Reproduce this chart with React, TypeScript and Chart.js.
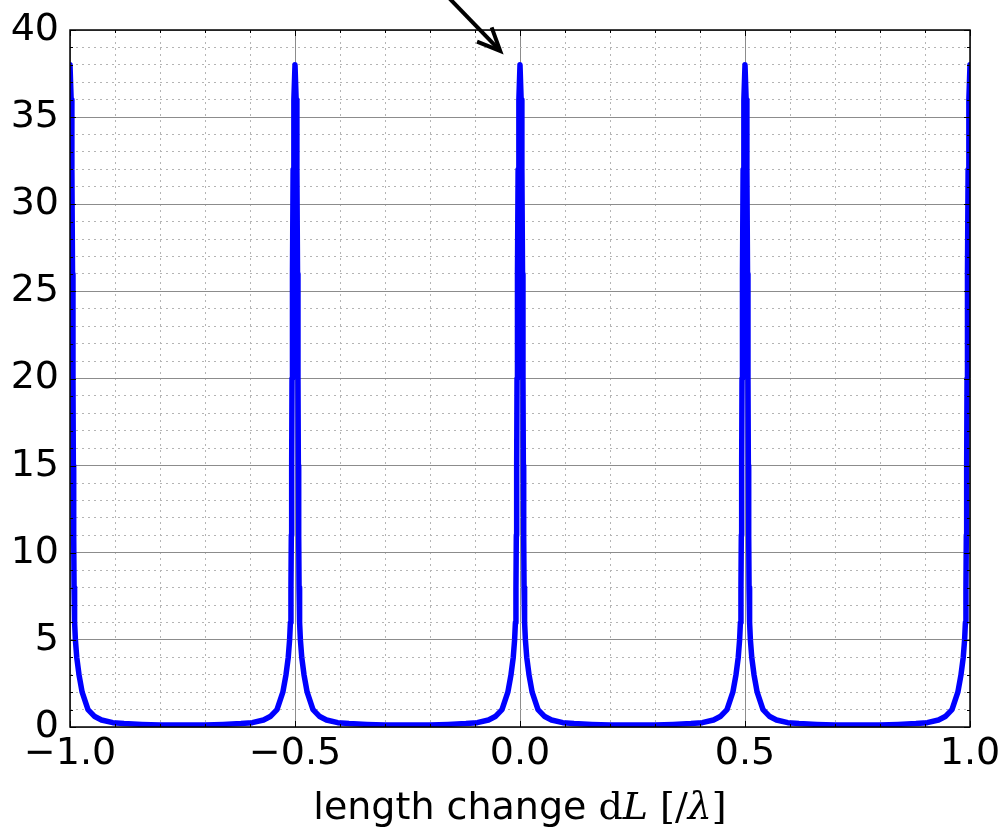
import React, { useEffect, useRef } from "react";
import { Chart, registerables } from "chart.js";

Chart.register(...registerables);

// length change dL [/λ]
const DL_VALUES = [
  -1, -0.9975, -0.9958, -0.9944, -0.9934, -0.9926, -0.9918, -0.991, -0.9898, -0.988, -0.985, -0.98, -0.973, -0.96, -0.945, -0.93, -0.905, -0.88, -0.84, -0.8,
  -0.75,
  -0.7, -0.66, -0.62, -0.595, -0.57, -0.555, -0.54, -0.527, -0.52, -0.515, -0.512, -0.5102, -0.509, -0.5082, -0.5074, -0.5066, -0.5056, -0.5042, -0.5025,
  -0.5,
  -0.4975, -0.4958, -0.4944, -0.4934, -0.4926, -0.4918, -0.491, -0.4898, -0.488, -0.485, -0.48, -0.473, -0.46, -0.445, -0.43, -0.405, -0.38, -0.34, -0.3,
  -0.25,
  -0.2, -0.16, -0.12, -0.095, -0.07, -0.055, -0.04, -0.027, -0.02, -0.015, -0.012, -0.0102, -0.009, -0.0082, -0.0074, -0.0066, -0.0056, -0.0042, -0.0025,
  0,
  0.0025, 0.0042, 0.0056, 0.0066, 0.0074, 0.0082, 0.009, 0.0102, 0.012, 0.015, 0.02, 0.027, 0.04, 0.055, 0.07, 0.095, 0.12, 0.16, 0.2,
  0.25,
  0.3, 0.34, 0.38, 0.405, 0.43, 0.445, 0.46, 0.473, 0.48, 0.485, 0.488, 0.4898, 0.491, 0.4918, 0.4926, 0.4934, 0.4944, 0.4958, 0.4975,
  0.5,
  0.5025, 0.5042, 0.5056, 0.5066, 0.5074, 0.5082, 0.509, 0.5102, 0.512, 0.515, 0.52, 0.527, 0.54, 0.555, 0.57, 0.595, 0.62, 0.66, 0.7,
  0.75,
  0.8, 0.84, 0.88, 0.905, 0.93, 0.945, 0.96, 0.973, 0.98, 0.985, 0.988, 0.9898, 0.991, 0.9918, 0.9926, 0.9934, 0.9944, 0.9958, 0.9975,
  1,
];

// circulating power (relative)
const POWER_VALUES = [
  38, 36, 32, 26, 20, 15, 11, 8, 6, 5, 4, 3, 2, 1, 0.6, 0.4, 0.25, 0.2, 0.15, 0.12,
  0.11,
  0.12, 0.15, 0.2, 0.25, 0.4, 0.6, 1, 2, 3, 4, 5, 6, 8, 11, 15, 20, 26, 32, 36,
  38,
  36, 32, 26, 20, 15, 11, 8, 6, 5, 4, 3, 2, 1, 0.6, 0.4, 0.25, 0.2, 0.15, 0.12,
  0.11,
  0.12, 0.15, 0.2, 0.25, 0.4, 0.6, 1, 2, 3, 4, 5, 6, 8, 11, 15, 20, 26, 32, 36,
  38,
  36, 32, 26, 20, 15, 11, 8, 6, 5, 4, 3, 2, 1, 0.6, 0.4, 0.25, 0.2, 0.15, 0.12,
  0.11,
  0.12, 0.15, 0.2, 0.25, 0.4, 0.6, 1, 2, 3, 4, 5, 6, 8, 11, 15, 20, 26, 32, 36,
  38,
  36, 32, 26, 20, 15, 11, 8, 6, 5, 4, 3, 2, 1, 0.6, 0.4, 0.25, 0.2, 0.15, 0.12,
  0.11,
  0.12, 0.15, 0.2, 0.25, 0.4, 0.6, 1, 2, 3, 4, 5, 6, 8, 11, 15, 20, 26, 32, 36,
  38,
];

const X_RANGE = [-1, 1];
const Y_RANGE = [0, 40];
const X_MINOR_STEP = 0.1;
const X_MAJOR_STEP = 0.5;
const Y_MINOR_STEP = 1;
const Y_MAJOR_STEP = 5;

// x label: "length change dL [/λ]"
const X_LABEL_PARTS = [
  { text: "length change ", style: "sans" },
  { text: "d", style: "serif" },
  { text: "L", style: "italic" },
  { text: " [/", style: "serif" },
  { text: "λ", style: "italic" },
  { text: "]", style: "serif" },
];

// annotation arrow pointing at the resonance at dL = 0 (data coordinates)
const ARROW_TAIL = [-0.16, 41.9];
const ARROW_TIP = [-0.044, 38.8];

const isMultiple = (v: number, step: number) =>
  Math.abs(v / step - Math.round(v / step)) < 1e-6;

const fmtX = (v: number) => {
  const s = v.toFixed(1);
  return s.startsWith("-") ? "\u2212" + s.slice(1) : s;
};

const SANS = "'DejaVu Sans', sans-serif";
const SERIF = "'DejaVu Serif', serif";

const decorPlugin = {
  id: "decor",
  afterDatasetsDraw(chart: any) {
    const { ctx, chartArea } = chart;
    const xs = chart.scales.x;
    const ys = chart.scales.y;
    ctx.save();
    // inward tick marks on all four sides
    ctx.strokeStyle = "#000";
    ctx.lineWidth = 1;
    ctx.beginPath();
    xs.ticks.forEach((t: any) => {
      const px = Math.round(xs.getPixelForValue(t.value)) + 0.5;
      const len = isMultiple(t.value, X_MAJOR_STEP) ? 6 : 3;
      ctx.moveTo(px, chartArea.bottom);
      ctx.lineTo(px, chartArea.bottom - len);
      ctx.moveTo(px, chartArea.top);
      ctx.lineTo(px, chartArea.top + len);
    });
    ys.ticks.forEach((t: any) => {
      const py = Math.round(ys.getPixelForValue(t.value)) + 0.5;
      const len = isMultiple(t.value, Y_MAJOR_STEP) ? 6 : 3;
      ctx.moveTo(chartArea.left, py);
      ctx.lineTo(chartArea.left + len, py);
      ctx.moveTo(chartArea.right, py);
      ctx.lineTo(chartArea.right - len, py);
    });
    ctx.stroke();
    // frame
    ctx.lineWidth = 1.5;
    ctx.strokeStyle = "#000";
    ctx.strokeRect(
      chartArea.left,
      chartArea.top,
      chartArea.right - chartArea.left,
      chartArea.bottom - chartArea.top
    );
    ctx.restore();
  },
  afterDraw(chart: any) {
    const { ctx, chartArea } = chart;
    const xs = chart.scales.x;
    const ys = chart.scales.y;
    ctx.save();
    // x axis label with mixed fonts
    const fontFor = (style: string) =>
      style === "sans"
        ? `38px ${SANS}`
        : style === "italic"
        ? `italic 38px ${SERIF}`
        : `38px ${SERIF}`;
    let total = 0;
    const widths = X_LABEL_PARTS.map((p) => {
      ctx.font = fontFor(p.style);
      const w = ctx.measureText(p.text).width;
      total += w;
      return w;
    });
    let x = (chartArea.left + chartArea.right) / 2 - total / 2;
    const baseY = 819;
    ctx.fillStyle = "#000";
    ctx.textBaseline = "alphabetic";
    ctx.textAlign = "left";
    X_LABEL_PARTS.forEach((p, i) => {
      ctx.font = fontFor(p.style);
      ctx.fillText(p.text, x, baseY);
      x += widths[i];
    });

    // arrow
    const tx = xs.getPixelForValue(ARROW_TAIL[0]);
    const ty = ys.getPixelForValue(ARROW_TAIL[1]);
    const hx = xs.getPixelForValue(ARROW_TIP[0]);
    const hy = ys.getPixelForValue(ARROW_TIP[1]);
    const ang = Math.atan2(hy - ty, hx - tx);
    const headLen = 25;
    const spread = (24 * Math.PI) / 180;
    ctx.strokeStyle = "#000";
    ctx.lineWidth = 4;
    ctx.lineCap = "butt";
    ctx.lineJoin = "miter";
    ctx.beginPath();
    ctx.moveTo(tx, ty);
    ctx.lineTo(hx - Math.cos(ang) * 2, hy - Math.sin(ang) * 2);
    ctx.stroke();
    ctx.beginPath();
    ctx.moveTo(hx - headLen * Math.cos(ang - spread), hy - headLen * Math.sin(ang - spread));
    ctx.lineTo(hx, hy);
    ctx.lineTo(hx - headLen * Math.cos(ang + spread), hy - headLen * Math.sin(ang + spread));
    ctx.stroke();
    ctx.restore();
  },
};

export default function App() {
  const canvasRef = useRef<HTMLCanvasElement | null>(null);

  useEffect(() => {
    if (!canvasRef.current) return;
    const points = DL_VALUES.map((x, i) => ({ x, y: POWER_VALUES[i] }));
    const chart = new Chart(canvasRef.current, {
      type: "line",
      data: {
        datasets: [
          {
            data: points,
            borderColor: "#0000ff",
            backgroundColor: "#0000ff",
            borderWidth: 5.5,
            pointRadius: 0,
            tension: 0,
            fill: false,
            borderJoinStyle: "round",
            borderCapStyle: "round",
            clip: 0,
          } as any,
        ],
      },
      plugins: [decorPlugin],
      options: {
        animation: false,
        responsive: true,
        maintainAspectRatio: false,
        parsing: false as any,
        normalized: true,
        layout: { padding: { top: 30, right: 32, left: 0, bottom: 0 } },
        plugins: {
          legend: { display: false },
          tooltip: { enabled: false },
          title: { display: false },
        },
        events: [],
        scales: {
          x: {
            type: "linear",
            min: X_RANGE[0],
            max: X_RANGE[1],
            afterFit: (s: any) => {
              s.height = 102;
              s.paddingLeft = 0;
              s.paddingRight = 0;
            },
            ticks: {
              stepSize: X_MINOR_STEP,
              maxTicksLimit: 100,
              autoSkip: false,
              maxRotation: 0,
              minRotation: 0,
              padding: 4,
              color: "#000",
              font: { family: SANS, size: 38 },
              callback: (v: any) => (isMultiple(Number(v), X_MAJOR_STEP) ? fmtX(Number(v)) : ""),
            },
            grid: {
              drawTicks: false,
              color: (c: any) =>
                c.tick && isMultiple(c.tick.value, X_MAJOR_STEP) ? "#8c8c8c" : "#b4b4b4",
              lineWidth: 1,
            },
            border: {
              display: false,
              dash: (c: any) =>
                c.tick && !isMultiple(c.tick.value, X_MAJOR_STEP) ? [2, 4] : [],
            } as any,
          },
          y: {
            type: "linear",
            min: Y_RANGE[0],
            max: Y_RANGE[1],
            afterFit: (s: any) => {
              s.width = 70;
              s.paddingTop = 0;
              s.paddingBottom = 0;
            },
            ticks: {
              stepSize: Y_MINOR_STEP,
              maxTicksLimit: 100,
              autoSkip: false,
              padding: 11,
              color: "#000",
              font: { family: SANS, size: 38 },
              callback: (v: any) => (isMultiple(Number(v), Y_MAJOR_STEP) ? String(v) : ""),
            },
            grid: {
              drawTicks: false,
              color: (c: any) =>
                c.tick && isMultiple(c.tick.value, Y_MAJOR_STEP) ? "#8c8c8c" : "#b4b4b4",
              lineWidth: 1,
            },
            border: {
              display: false,
              dash: (c: any) =>
                c.tick && !isMultiple(c.tick.value, Y_MAJOR_STEP) ? [2, 4] : [],
            } as any,
          },
        },
      },
    });
    return () => chart.destroy();
  }, []);

  return (
    <div
      style={{
        position: "fixed",
        left: 0,
        top: 0,
        width: "1002px",
        height: "829px",
        background: "#fff",
      }}
    >
      <canvas ref={canvasRef} />
    </div>
  );
}
